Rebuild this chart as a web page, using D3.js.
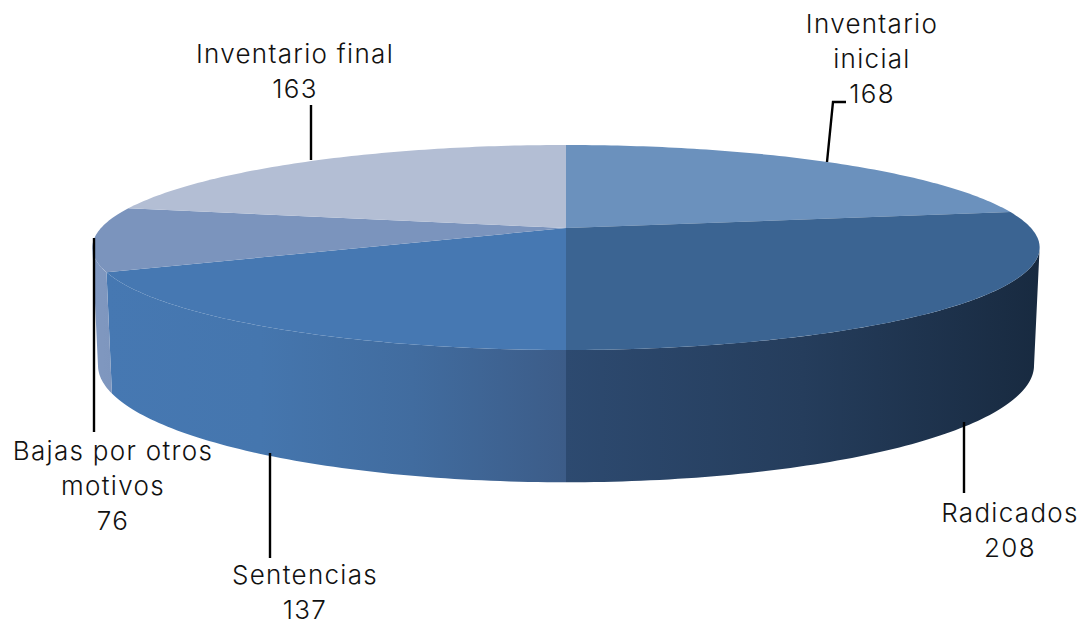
<!DOCTYPE html>
<html>
<head>
<meta charset="utf-8">
<script src="https://cdn.jsdelivr.net/npm/d3@7"></script>
<style>
  html, body { margin: 0; padding: 0; background: #fff; }
  text { font-family: Inter, Lato, sans-serif; font-weight: 300; fill: #111; font-size: 26px; letter-spacing: 1.3px; }
</style>
</head>
<body>
<div id="graphic"></div>
<script>
const categories = ["Inventario inicial", "Radicados", "Sentencias", "Bajas por otros motivos", "Inventario final"];
const values = [168, 208, 137, 76, 163];
const labelLines = [["Inventario", "inicial"], ["Radicados"], ["Sentencias"], ["Bajas por otros", "motivos"], ["Inventario final"]];

const width = 1088;
const height = 626;

const topColors = ["#6b91bd", "#3b6492", "#4678b2", "#7b94bd", "#b3bed4"];
const sideColors = [
  ["#3b6492", "#3b6492"],
  ["#2d4a70", "#253d5c", "#182a40"],
  ["#4678b2", "#4576ae", "#416c9f", "#3c5c88"],
  ["#8098c0", "#7e96be"],
  ["#b3bed4", "#b3bed4"]
];

// perspective of the tilted disc: near side looks bigger than far side
const k = 0.19;
const topRing = { cx: 566, cy: 228, a: 465, b: 98.8 };
const bottomRing = { cx: 566, cy: 343, a: 459.5, b: 112.8 };

function project(ring, t) {
  const w = 1 + k * Math.cos(t);
  return [ring.cx + ring.a * Math.sin(t) / w, ring.cy - ring.b * Math.cos(t) / w];
}

const svg = d3.select("#graphic").append("svg")
  .attr("width", width)
  .attr("height", height)
  .style("display", "block");

const defs = svg.append("defs");
const line = d3.line();

const arcs = d3.pie().sort(null)(values);

function arcPoints(ring, a0, a1) {
  const n = Math.max(2, Math.ceil((a1 - a0) * 60));
  return d3.range(n + 1).map(i => project(ring, a0 + (a1 - a0) * i / n));
}

// side walls, only the part of the rim turned towards the viewer
const rimStart = Math.acos(-k);
const rimEnd = 2 * Math.PI - rimStart;

arcs.forEach((d, i) => {
  const a0 = Math.max(d.startAngle, rimStart);
  const a1 = Math.min(d.endAngle, rimEnd);
  if (a1 <= a0) return;

  const upper = arcPoints(topRing, a0, a1);
  const lower = arcPoints(bottomRing, a0, a1).reverse();
  const xs = d3.extent(upper.concat(lower), p => p[0]);

  const grad = defs.append("linearGradient")
    .attr("id", `side${i}`)
    .attr("gradientUnits", "userSpaceOnUse")
    .attr("x1", xs[0]).attr("x2", xs[1])
    .attr("y1", 0).attr("y2", 0);
  sideColors[i].forEach((c, j, all) => {
    grad.append("stop").attr("offset", j / (all.length - 1)).attr("stop-color", c);
  });

  svg.append("path")
    .attr("d", line(upper.concat(lower)) + "Z")
    .attr("fill", `url(#side${i})`);
});

// top face
arcs.forEach((d, i) => {
  const pts = [[topRing.cx, topRing.cy]].concat(arcPoints(topRing, d.startAngle, d.endAngle));
  svg.append("path")
    .attr("d", line(pts) + "Z")
    .attr("fill", topColors[i]);
});

// leader lines
const leaders = [
  [[827, 162], [833, 102], [846, 102]],
  [[964, 422], [964, 493]],
  [[270, 453], [270, 558]],
  [[94, 238], [94, 432]],
  [[311, 105], [311, 160]]
];
leaders.forEach(l => {
  svg.append("path")
    .attr("d", line(l))
    .attr("fill", "none")
    .attr("stroke", "#000")
    .attr("stroke-width", 2.4);
});

// labels: category lines then the value
const labelAt = [
  { x: 872, y: 33 },
  { x: 1010, y: 522 },
  { x: 305, y: 584 },
  { x: 113, y: 460 },
  { x: 295, y: 63 }
];
categories.forEach((c, i) => {
  const lines = labelLines[i].concat(String(values[i]));
  lines.forEach((t, j) => {
    svg.append("text")
      .attr("x", labelAt[i].x)
      .attr("y", labelAt[i].y + j * 35)
      .attr("text-anchor", "middle")
      .text(t);
  });
});
</script>
</body>
</html>
